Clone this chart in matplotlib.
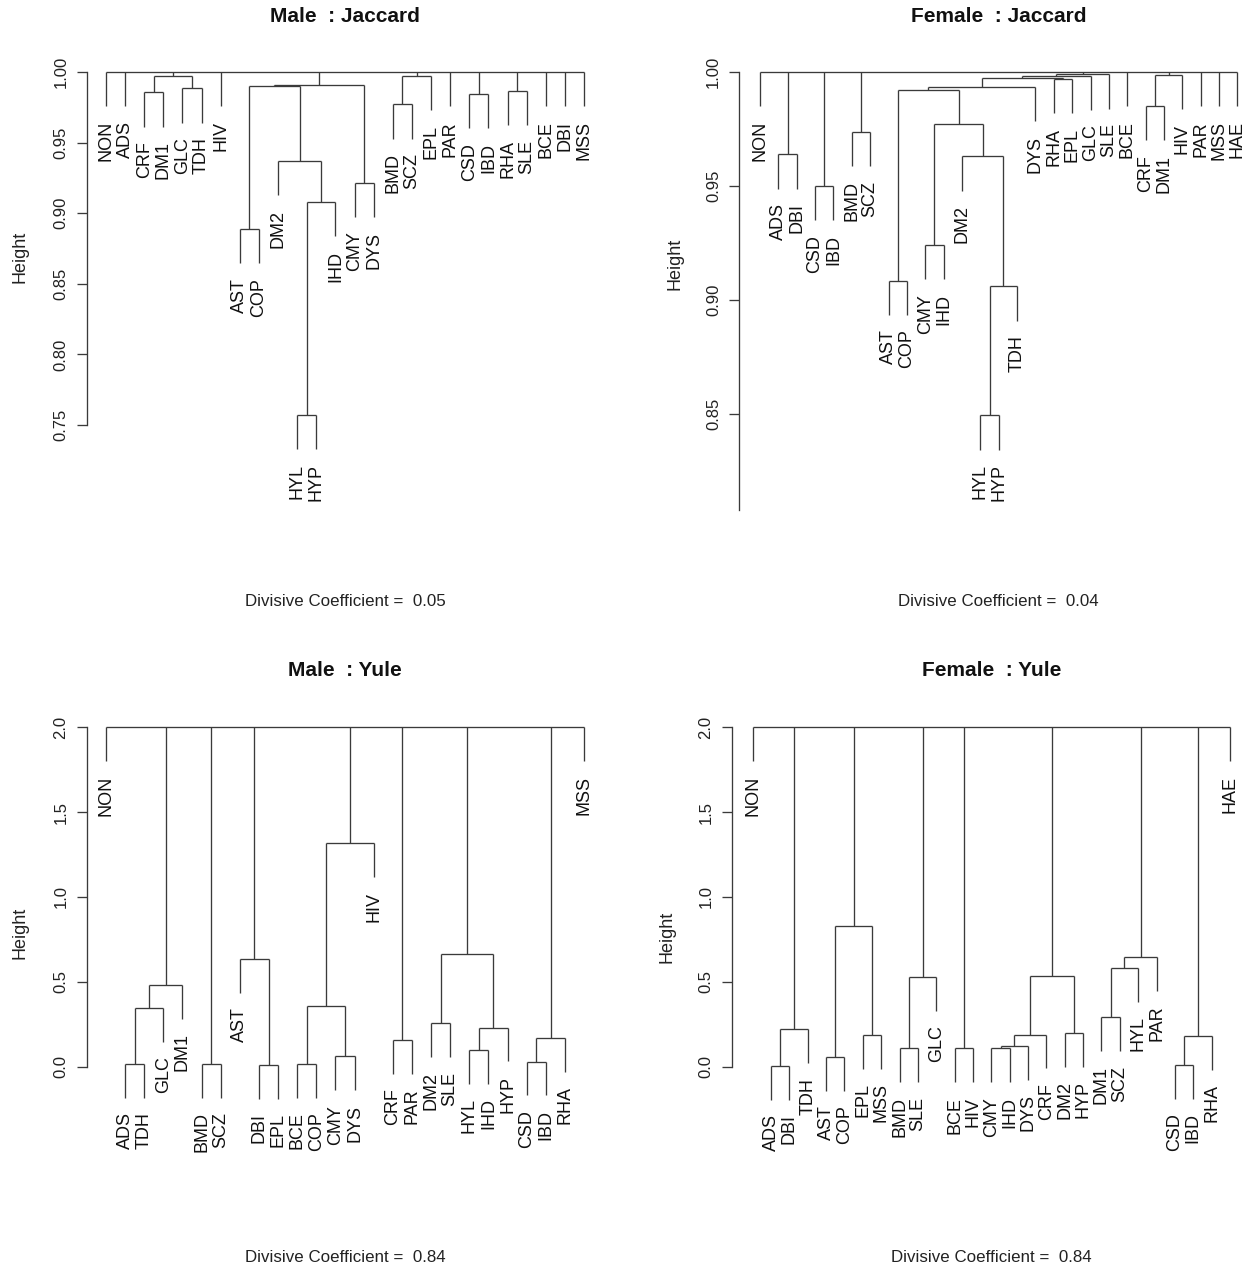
import matplotlib
matplotlib.use("Agg")
import matplotlib.pyplot as plt

plt.rcParams['font.family'] = ['Liberation Sans', 'DejaVu Sans']

# ---------------------------------------------------------------------------
# Divisive clustering trees.  An internal node is [height, child, child, ...];
# a leaf is the disease code.  Leaf order follows the nesting.
# ---------------------------------------------------------------------------
male_jaccard = [1.0,
    "NON", "ADS",
    [0.9974, [0.9856, "CRF", "DM1"], [0.9885, "GLC", "TDH"]],
    "HIV",
    [0.9910,
        [0.9898, [0.8888, "AST", "COP"],
                 [0.9372, "DM2", [0.9082, [0.7570, "HYL", "HYP"], "IHD"]]],
        [0.9216, "CMY", "DYS"]],
    [0.9974, [0.9771, "BMD", "SCZ"], "EPL"],
    "PAR",
    [0.9844, "CSD", "IBD"],
    [0.9865, "RHA", "SLE"],
    "BCE", "DBI", "MSS"]

female_jaccard = [1.0,
    "NON",
    [0.9639, "ADS", "DBI"],
    [0.9500, "CSD", "IBD"],
    [0.9738, "BMD", "SCZ"],
    [0.9990,
        [0.9984,
            [0.9972,
                [0.9936,
                    [0.9921, [0.9086, "AST", "COP"],
                             [0.9774, [0.9242, "CMY", "IHD"],
                                      [0.9630, "DM2",
                                       [0.9061, [0.8496, "HYL", "HYP"], "TDH"]]]],
                    "DYS"],
                [0.9969, "RHA", "EPL"]],
            "GLC"],
        "SLE"],
    "BCE",
    [0.9987, [0.9852, "CRF", "DM1"], "HIV"],
    "PAR", "MSS", "HAE"]

male_yule = [2.0,
    "NON",
    [0.482, [0.346, [0.016, "ADS", "TDH"], "GLC"], "DM1"],
    [0.016, "BMD", "SCZ"],
    [0.634, "AST", [0.010, "DBI", "EPL"]],
    [1.317, [0.360, [0.016, "BCE", "COP"], [0.061, "CMY", "DYS"]], "HIV"],
    [0.157, "CRF", "PAR"],
    [0.665, [0.256, "DM2", "SLE"], [0.230, [0.098, "HYL", "IHD"], "HYP"]],
    [0.169, [0.030, "CSD", "IBD"], "RHA"],
    "MSS"]

female_yule = [2.0,
    "NON",
    [0.220, [0.004, "ADS", "DBI"], "TDH"],
    [0.829, [0.057, "AST", "COP"], [0.187, "EPL", "MSS"]],
    [0.530, [0.108, "BMD", "SLE"], "GLC"],
    [0.108, "BCE", "HIV"],
    [0.536, [0.189, [0.122, [0.108, "CMY", "IHD"], "DYS"], "CRF"],
            [0.200, "DM2", "HYP"]],
    [0.648, [0.583, [0.291, "DM1", "SCZ"], "HYL"], "PAR"],
    [0.181, [0.012, "CSD", "IBD"], "RHA"],
    "HAE"]

sexes = ["Male", "Female", "Male", "Female"]
measures = ["Jaccard", "Jaccard", "Yule", "Yule"]
trees = [male_jaccard, female_jaccard, male_yule, female_yule]
divisive_coef = [0.05, 0.04, 0.84, 0.84]
jaccard_ticks = [0.75, 0.80, 0.85, 0.90, 0.95, 1.00]
yule_ticks = [0.0, 0.5, 1.0, 1.5, 2.0]

# ---------------------------------------------------------------------------
# Page layout (pixels on a 1246 x 1268 canvas)
# ---------------------------------------------------------------------------
W, H = 1246, 1268
DPI = 100
LINE = "#3a3a3a"

frames = [
    dict(axis_x=86.7, leaf1=106.0, leafn=584.0, yref=((1.0, 72.0), (0.75, 425.0)),
         top=57, bottom=510, ticks=jaccard_ticks, fmt="%.2f",
         title_y=16, sub_y=602, ylab=(20, 257)),
    dict(axis_x=739.3, leaf1=760.0, leafn=1237.4, yref=((1.0, 72.0), (0.85, 414.3)),
         top=57, bottom=510, ticks=jaccard_ticks, fmt="%.2f",
         title_y=16, sub_y=602, ylab=(675, 264)),
    dict(axis_x=86.7, leaf1=106.0, leafn=584.0, yref=((2.0, 727.3), (0.0, 1066.7)),
         top=712, bottom=1165, ticks=yule_ticks, fmt="%.1f",
         title_y=671, sub_y=1257, ylab=(20, 933)),
    dict(axis_x=731.7, leaf1=752.7, leafn=1230.0, yref=((2.0, 727.3), (0.0, 1066.7)),
         top=712, bottom=1165, ticks=yule_ticks, fmt="%.1f",
         title_y=671, sub_y=1257, ylab=(667, 937)),
]


def dendrogram_segments(tree):
    """Lay out a tree the way R's plot.hclust does (leaves at 1..n)."""
    heights = []

    def collect(node):
        if isinstance(node, str):
            return
        heights.append(node[0])
        for c in node[1:]:
            collect(c)

    collect(tree)
    hang = 0.1 * (max(heights) - min(heights))

    segs, leaves = [], []

    def walk(node):
        if isinstance(node, str):
            leaves.append([node, len(leaves) + 1, None])
            return len(leaves), None, leaves[-1]
        h = node[0]
        kids = [walk(c) for c in node[1:]]
        xs = [k[0] for k in kids]
        segs.append(((min(xs), max(xs)), (h, h)))
        for x, ch, leaf in kids:
            if ch is None:
                bottom = h - hang
                leaf[2] = bottom
            else:
                bottom = ch
            segs.append(((x, x), (bottom, h)))
        return (xs[0] + xs[-1]) / 2.0, h, None

    walk(tree)
    return segs, leaves


fig = plt.figure(figsize=(W / DPI, H / DPI), dpi=DPI)
fig.patch.set_facecolor("white")

for tree, sex, meas, coef, fr in zip(trees, sexes, measures, divisive_coef, frames):
    segs, leaves = dendrogram_segments(tree)
    n = len(leaves)

    # horizontal frame: leaf 1 .. leaf n with equal margins on both sides
    sp = (fr["leafn"] - fr["leaf1"]) / (n - 1)
    margin = fr["leaf1"] - fr["axis_x"]
    left_px = fr["axis_x"]
    right_px = fr["leafn"] + margin
    xlim = (1 - margin / sp, n + margin / sp)

    # vertical frame from two reference heights
    (v1, p1), (v2, p2) = fr["yref"]
    per_px = (v1 - v2) / (p2 - p1)
    ytop = v1 + (p1 - fr["top"]) * per_px
    ybot = v1 - (fr["bottom"] - p1) * per_px

    ax = fig.add_axes([left_px / W, 1 - fr["bottom"] / H,
                       (right_px - left_px) / W, (fr["bottom"] - fr["top"]) / H])
    ax.set_xlim(*xlim)
    ax.set_ylim(ybot, ytop)

    for (xa, xb), (ya, yb) in segs:
        ax.plot([xa, xb], [ya, yb], color=LINE, lw=0.95, solid_capstyle="butt")

    for name, x, bottom in leaves:
        ax.annotate(name, xy=(x, bottom), xytext=(0, -10.5), textcoords="offset points",
                    rotation=90, rotation_mode="anchor", ha="right", va="center",
                    fontsize=13, color="#111111", annotation_clip=False)

    ticks = [t for t in fr["ticks"] if ybot <= t <= ytop]
    ax.set_yticks(ticks)
    ax.set_yticklabels([fr["fmt"] % t for t in ticks])
    ax.tick_params(axis="y", length=7.2, width=0.95, color=LINE, pad=6,
                   labelsize=12, labelcolor="#222222", labelrotation=90)
    for lab in ax.get_yticklabels():
        lab.set_verticalalignment("center")
    ax.spines["left"].set_bounds(max(min(fr["ticks"]), ybot), max(ticks))
    ax.spines["left"].set_color(LINE)
    ax.spines["left"].set_linewidth(0.95)
    for side in ("top", "right", "bottom"):
        ax.spines[side].set_visible(False)
    ax.set_xticks([])
    ax.patch.set_alpha(0)

    cx = (left_px + right_px) / 2 / W
    fig.text(cx, 1 - fr["title_y"] / H, f"{sex}  : {meas}", ha="center", va="center",
             fontsize=15, fontweight="bold", color="#111111")
    fig.text(cx, 1 - fr["sub_y"] / H, f"Divisive Coefficient =  {coef:.2f}",
             ha="center", va="center", fontsize=12.2, color="#222222")
    fig.text(fr["ylab"][0] / W, 1 - fr["ylab"][1] / H, "Height", rotation=90,
             ha="center", va="center", fontsize=13, color="#222222")

fig.savefig("out.png", dpi=DPI, facecolor="white")
